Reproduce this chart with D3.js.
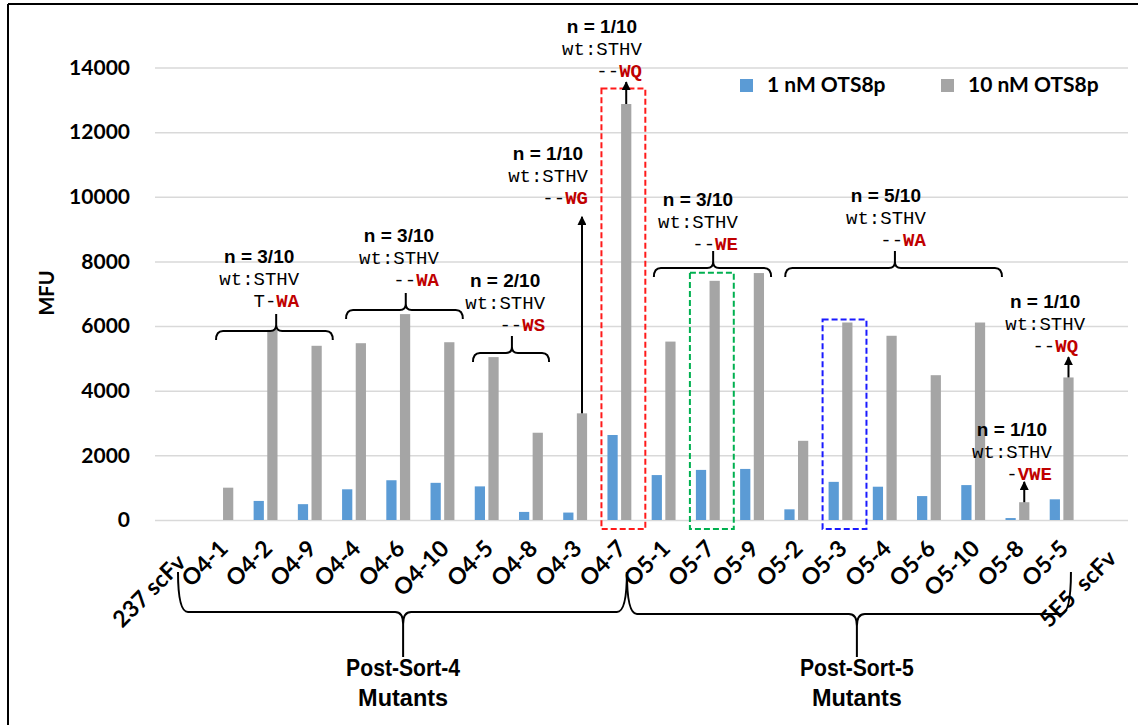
<!DOCTYPE html>
<html>
<head>
<meta charset="utf-8">
<script src="https://cdn.jsdelivr.net/npm/d3@7"></script>
<style>
  body { margin: 0; background: #fff; }
  svg { display: block; }
</style>
</head>
<body>
<svg width="1138" height="725"></svg>
<script>
// chart data
var categories = ["237 scFv", "O4-1", "O4-2", "O4-9", "O4-4", "O4-6", "O4-10", "O4-5", "O4-8", "O4-3", "O4-7",
	"O5-1", "O5-7", "O5-9", "O5-2", "O5-3", "O5-4", "O5-6", "O5-10", "O5-8", "O5-5", "5E5 scFv"];
var seriesNames = ["1 nM OTS8p", "10 nM OTS8p"];
var oneNM = [0, 0, 590, 490, 950, 1230, 1150, 1040, 250, 230, 2630, 1390, 1550, 1580, 330, 1180, 1030, 740, 1080, 60, 640, 0];
var tenNM = [0, 1000, 5880, 5390, 5470, 6370, 5500, 5040, 2700, 3300, 12870, 5520, 7400, 7640, 2450, 6110, 5700, 4480, 6110, 550, 4410, 0];
var yTicks = [0, 2000, 4000, 6000, 8000, 10000, 12000, 14000];
var colors = ["#5b9bd5", "#a5a5a5"];

var svg = d3.select("svg");
var plotLeft = 155, plotRight = 1128, plotTop = 67.5, plotBottom = 520;
var labelFont = "Lato, 'Open Sans', sans-serif";
var monoFont = "'Liberation Mono', 'DejaVu Sans Mono', monospace";
var arialFont = "'Liberation Sans', Arial, sans-serif";
var red = "#c00000";

// scales
var x = d3.scaleBand()
	.domain(categories)
	.range([plotLeft, plotRight])
	.paddingInner(0.46)
	.paddingOuter(0.23);

var x1 = d3.scaleBand()
	.domain([0, 1])
	.range([0, x.bandwidth()])
	.paddingInner(0.25);

var y = d3.scaleLinear()
	.domain([0, 14000])
	.range([plotBottom, plotTop]);

// fractional category index -> pixel, used for annotations
var xi = d3.scaleLinear()
	.domain([0, categories.length])
	.range([plotLeft, plotRight]);

// frame lines (left and top)
svg.append("line").attr("x1", 8).attr("y1", 4).attr("x2", 8).attr("y2", 725)
	.attr("stroke", "#000").attr("stroke-width", 2);
svg.append("line").attr("x1", 8).attr("y1", 4).attr("x2", 1138).attr("y2", 4)
	.attr("stroke", "#000").attr("stroke-width", 2);

// gridlines
var yAxis = d3.axisLeft(y)
	.tickValues(yTicks)
	.tickSize(-(plotRight - plotLeft))
	.tickPadding(25)
	.tickFormat(d3.format("d"));

var gy = svg.append("g")
	.attr("transform", "translate(" + plotLeft + ",0)")
	.call(yAxis);
gy.select(".domain").remove();
gy.selectAll(".tick line").attr("stroke", "#d9d9d9").attr("stroke-width", 1.5);
gy.selectAll(".tick text")
	.attr("font-family", labelFont)
	.attr("font-weight", "bold")
	.attr("font-size", 21)
	.attr("fill", "#000");

// y axis title
svg.append("text")
	.attr("transform", "translate(54,293) rotate(-90)")
	.attr("text-anchor", "middle")
	.attr("font-family", labelFont)
	.attr("font-weight", "bold")
	.attr("font-size", 20)
	.text("MFU");

// bars
var rows = categories.map(function(c, i) {
	return {cat: c, values: [oneNM[i], tenNM[i]]};
});

var groups = svg.append("g").selectAll("g")
	.data(rows)
	.enter().append("g")
	.attr("transform", function(d) { return "translate(" + x(d.cat) + ",0)"; });

groups.selectAll("rect")
	.data(function(d) { return d.values.map(function(v, k) { return {k: k, v: v}; }); })
	.enter().append("rect")
	.attr("x", function(d) { return x1(d.k); })
	.attr("width", x1.bandwidth())
	.attr("y", function(d) { return y(d.v); })
	.attr("height", function(d) { return y(0) - y(d.v); })
	.attr("fill", function(d) { return colors[d.k]; });

// x labels, rotated; the two scFv labels sit a bit lower in the original
var labelShift = {"237 scFv": [2, 14], "5E5 scFv": [4, 10]};
svg.append("g").selectAll("text")
	.data(categories)
	.enter().append("text")
	.attr("transform", function(d) {
		var s = labelShift[d] || [0, 0];
		var cx = x(d) + x.bandwidth() / 2 + 8 + s[0];
		var cy = 550 + s[1];
		return "translate(" + cx + "," + cy + ") rotate(-45)";
	})
	.attr("text-anchor", "end")
	.attr("font-family", labelFont)
	.attr("font-weight", "bold")
	.attr("font-size", 23)
	.style("white-space", "pre")
	.text(function(d) { return d === "5E5 scFv" ? "5E5  scFv" : d; });

// legend
var legend = svg.append("g").selectAll("g")
	.data(seriesNames)
	.enter().append("g")
	.attr("transform", function(d, i) { return "translate(" + (740 + i * 201) + ",79)"; });
legend.append("rect")
	.attr("width", 13).attr("height", 13)
	.attr("fill", function(d, i) { return colors[i]; });
legend.append("text")
	.attr("x", 27).attr("y", 13)
	.attr("font-family", labelFont)
	.attr("font-weight", "bold")
	.attr("font-size", 21)
	.text(function(d) { return d; });

// dashed highlight boxes
var boxes = [
	{cat: "O4-7", top: 13350, color: "#ff1a1a"},
	{cat: "O5-7", top: 7650, color: "#00b050"},
	{cat: "O5-3", top: 6200, color: "#1a1aff"}
];
svg.append("g").selectAll("rect")
	.data(boxes)
	.enter().append("rect")
	.attr("x", function(d) { return x(d.cat) - 6; })
	.attr("y", function(d) { return y(d.top); })
	.attr("width", x.bandwidth() + 20)
	.attr("height", function(d) { return y(0) + 9 - y(d.top); })
	.attr("fill", "none")
	.attr("stroke", function(d) { return d.color; })
	.attr("stroke-width", 2)
	.attr("stroke-dasharray", "6,3");

// arrow head
svg.append("defs").append("marker")
	.attr("id", "head")
	.attr("viewBox", "0 0 10 10")
	.attr("refX", 9).attr("refY", 5)
	.attr("markerWidth", 4.5).attr("markerHeight", 4.5)
	.attr("orient", "auto")
	.append("path").attr("d", "M0,0 L10,5 L0,10 z").attr("fill", "#000");

// mutation annotations: brace over a group or arrow from one bar
var annotations = [
	{n: "n = 3/10", pre: "T-", mut: "WA", tx: 3.26, ty: 6590, brace: [1.38, 4.02, 2.74, 5850]},
	{n: "n = 3/10", pre: "--", mut: "WA", tx: 6.42, ty: 7240, brace: [4.32, 6.96, 5.67, 6500]},
	{n: "n = 2/10", pre: "--", mut: "WS", tx: 8.82, ty: 5850, brace: [7.19, 8.91, 8.07, 5170]},
	{n: "n = 1/10", pre: "--", mut: "WG", tx: 9.79, ty: 9780, arrow: ["O4-3", 9380]},
	{n: "n = 1/10", pre: "--", mut: "WQ", tx: 11.01, ty: 13700, arrow: ["O4-7", 13550]},
	{n: "n = 3/10", pre: "--", mut: "WE", tx: 13.18, ty: 8350, brace: [11.28, 13.93, 12.62, 7800]},
	{n: "n = 5/10", pre: "--", mut: "WA", tx: 17.43, ty: 8480, brace: [14.25, 19.15, 16.73, 7800]},
	{n: "n = 1/10", pre: "-", mut: "VWE", tx: 20.28, ty: 1240, arrow: ["O5-8", 1180]},
	{n: "n = 1/10", pre: "--", mut: "WQ", tx: 21.03, ty: 5200, arrow: ["O5-5", 5040], shift: -7}
];

var ann = svg.append("g").selectAll("g")
	.data(annotations)
	.enter().append("g");

ann.append("text")
	.attr("x", function(d) { return xi(d.tx) - 40; })
	.attr("y", function(d) { return y(d.ty) - 44; })
	.attr("text-anchor", "middle")
	.attr("font-family", arialFont)
	.attr("font-weight", "bold")
	.attr("font-size", 19)
	.text(function(d) { return d.n; });

ann.append("text")
	.attr("x", function(d) { return xi(d.tx); })
	.attr("y", function(d) { return y(d.ty) - 22; })
	.attr("text-anchor", "end")
	.attr("font-family", monoFont)
	.attr("font-size", 19)
	.text("wt:STHV");

var mutText = ann.append("text")
	.attr("x", function(d) { return xi(d.tx) + (d.shift || 0); })
	.attr("y", function(d) { return y(d.ty); })
	.attr("text-anchor", "end")
	.attr("font-family", monoFont)
	.attr("font-size", 19);
mutText.append("tspan").text(function(d) { return d.pre; });
mutText.append("tspan")
	.attr("fill", red)
	.attr("font-weight", "bold")
	.text(function(d) { return d.mut; });

// curly brace with its tip pointing up
function braceUp(x0, x2, xt, yb) {
	return "M" + x0 + "," + (yb + 9) +
		" Q" + x0 + "," + yb + " " + (x0 + 7) + "," + yb +
		" L" + (xt - 6) + "," + yb +
		" Q" + xt + "," + yb + " " + xt + "," + (yb - 6) +
		" L" + xt + "," + (yb - 17) +
		" M" + xt + "," + (yb - 6) +
		" Q" + xt + "," + yb + " " + (xt + 6) + "," + yb +
		" L" + (x2 - 7) + "," + yb +
		" Q" + x2 + "," + yb + " " + x2 + "," + (yb + 9);
}

ann.filter(function(d) { return d.brace; })
	.append("path")
	.attr("d", function(d) {
		return braceUp(xi(d.brace[0]), xi(d.brace[1]), xi(d.brace[2]), y(d.brace[3]));
	})
	.attr("fill", "none")
	.attr("stroke", "#000")
	.attr("stroke-width", 2);

ann.filter(function(d) { return d.arrow; })
	.append("line")
	.attr("x1", function(d) { return x(d.arrow[0]) + x1(1) + x1.bandwidth() / 2; })
	.attr("x2", function(d) { return x(d.arrow[0]) + x1(1) + x1.bandwidth() / 2; })
	.attr("y1", function(d) { return y(tenNM[categories.indexOf(d.arrow[0])]); })
	.attr("y2", function(d) { return y(d.arrow[1]); })
	.attr("stroke", "#000")
	.attr("stroke-width", 2)
	.attr("marker-end", "url(#head)");

// bottom braces for the two sorts
var sorts = [
	{label: ["Post-Sort-4", "Mutants"], from: 0.52, to: 10.67, tip: 5.61},
	{label: ["Post-Sort-5", "Mutants"], from: 10.67, to: 20.71, tip: 15.87}
];

function braceDown(x0, x2, xt, yTop, yb, yTip) {
	return "M" + x0 + "," + yTop +
		" Q" + x0 + "," + yb + " " + (x0 + 10) + "," + yb +
		" L" + (xt - 8) + "," + yb +
		" Q" + xt + "," + yb + " " + xt + "," + (yb + 12) +
		" L" + xt + "," + yTip +
		" M" + xt + "," + (yb + 12) +
		" Q" + xt + "," + yb + " " + (xt + 8) + "," + yb +
		" L" + (x2 - 10) + "," + yb +
		" Q" + x2 + "," + yb + " " + x2 + "," + yTop;
}

var sortG = svg.append("g").selectAll("g")
	.data(sorts)
	.enter().append("g");

sortG.append("path")
	.attr("d", function(d, i) {
		return braceDown(xi(d.from), xi(d.to), xi(d.tip), plotBottom + 52, plotBottom + 92 + i * 2, plotBottom + 137);
	})
	.attr("fill", "none")
	.attr("stroke", "#000")
	.attr("stroke-width", 2);

sortG.selectAll("text")
	.data(function(d) { return d.label.map(function(t) { return {t: t, x: xi(d.tip)}; }); })
	.enter().append("text")
	.attr("x", function(d) { return d.x; })
	.attr("y", function(d, i) { return 676 + i * 30; })
	.attr("text-anchor", "middle")
	.attr("font-family", "'Liberation Sans Narrow', 'Liberation Sans', sans-serif")
	.attr("font-weight", "bold")
	.attr("font-size", 24)
	.attr("textLength", function(d) { return d.t === "Mutants" ? 90 : 114; })
	.attr("lengthAdjust", "spacingAndGlyphs")
	.text(function(d) { return d.t; });
</script>
</body>
</html>
